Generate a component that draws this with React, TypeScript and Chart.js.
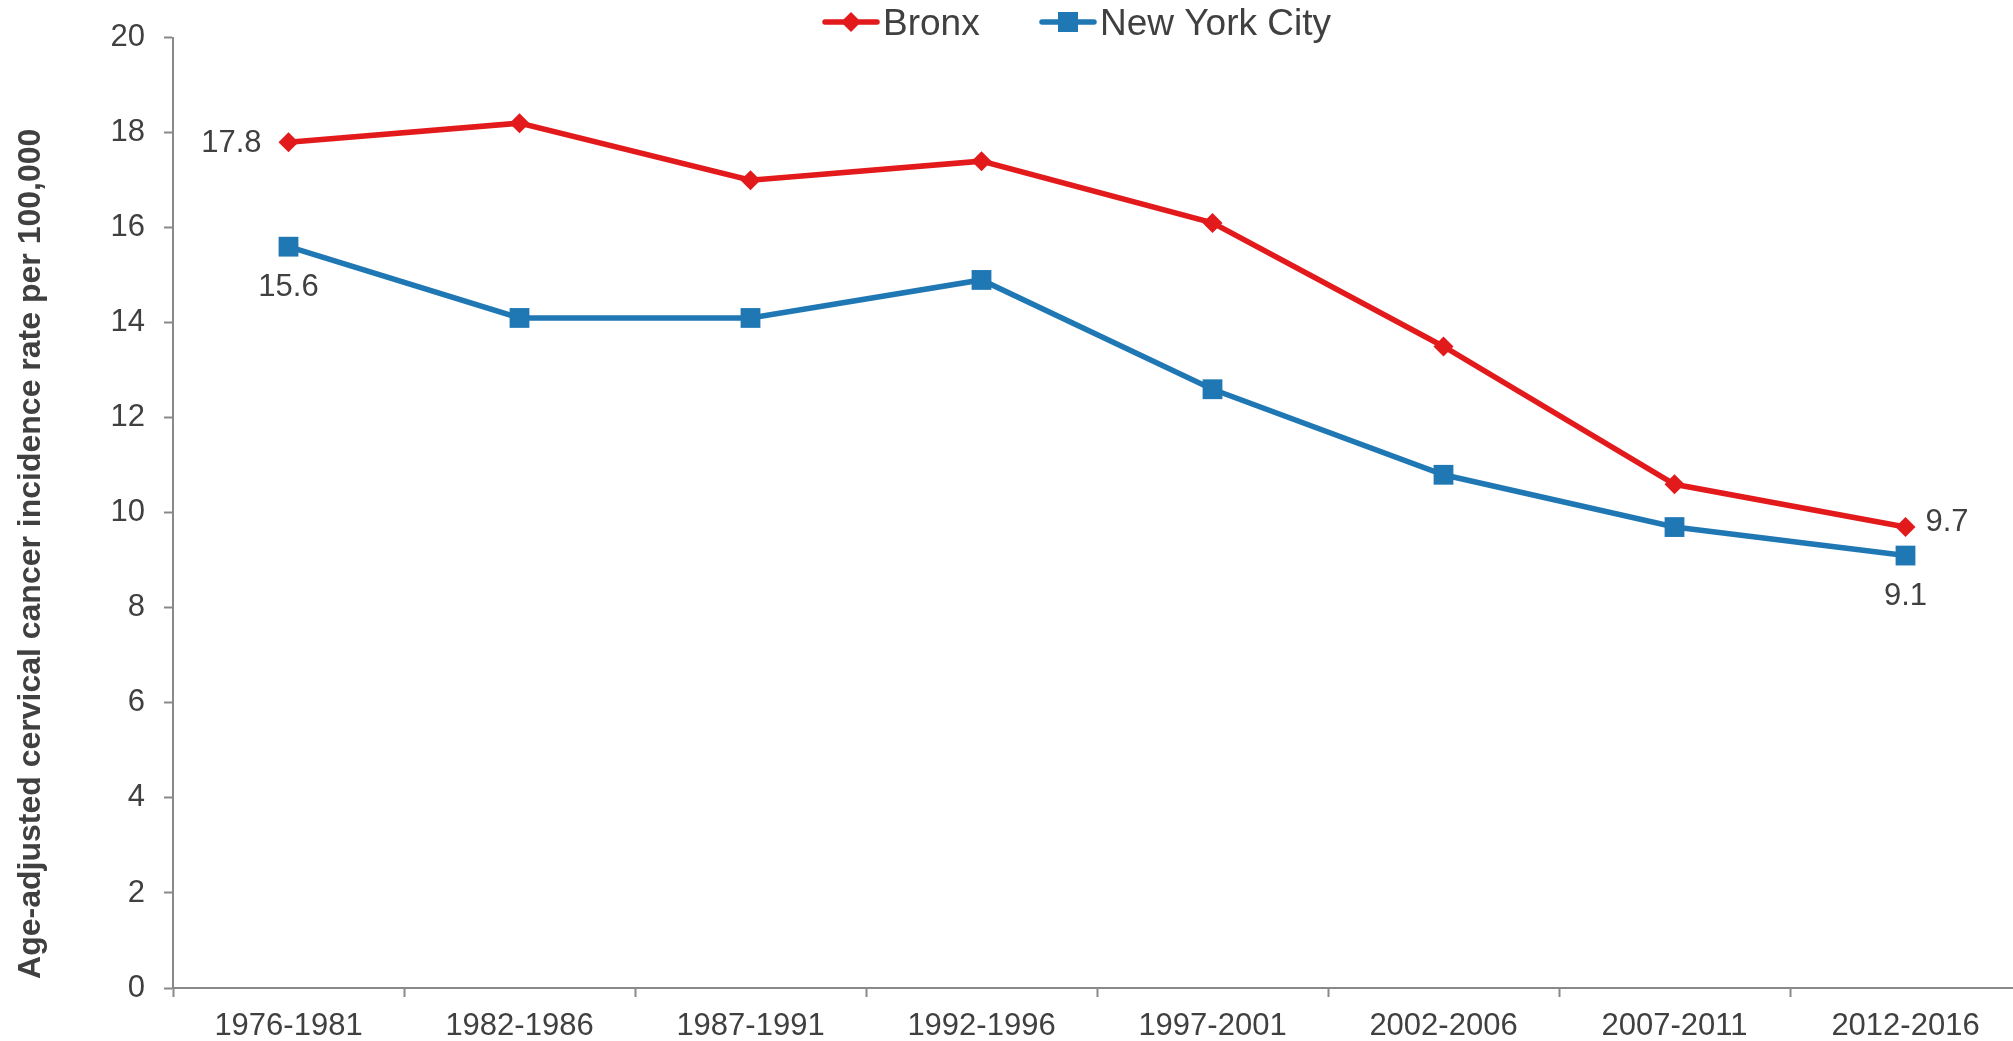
import React, { useEffect, useRef } from "react";
import { Chart, registerables } from "chart.js";

Chart.register(...registerables);

const categories = [
  "1976-1981",
  "1982-1986",
  "1987-1991",
  "1992-1996",
  "1997-2001",
  "2002-2006",
  "2007-2011",
  "2012-2016",
];
const seriesNames = ["Bronx", "New York City"];
const bronxValues = [17.8, 18.2, 17.0, 17.4, 16.1, 13.5, 10.6, 9.7];
const nycValues = [15.6, 14.1, 14.1, 14.9, 12.6, 10.8, 9.7, 9.1];
const yTitle = "Age-adjusted cervical cancer incidence rate per 100,000";
const yMin = 0;
const yMax = 20;
const yStep = 2;

const RED = "#E31A1C";
const BLUE = "#1F78B4";
const TEXT = "#404040";
const AXIS = "#898989";
const FONT = "'Liberation Sans', Arial, Helvetica, sans-serif";
const LINE_W = 5.5;

const CANVAS_W = 2021;
const CANVAS_H = 1041;

const overlayPlugin = {
  id: "overlay",
  afterDraw(chart: any) {
    const ctx = chart.ctx as CanvasRenderingContext2D;
    const area = chart.chartArea;
    ctx.save();

    // Y-axis title
    ctx.fillStyle = TEXT;
    ctx.font = `bold 32px ${FONT}`;
    ctx.textAlign = "center";
    ctx.textBaseline = "middle";
    ctx.translate(31, (area.top + area.bottom) / 2 + 41);
    ctx.rotate(-Math.PI / 2);
    ctx.fillText(yTitle, 0, 0);
    ctx.restore();

    // Legend
    ctx.save();
    const legendY = 22;
    const items = [
      { name: seriesNames[0], color: RED, style: "diamond", x: 823 },
      { name: seriesNames[1], color: BLUE, style: "square", x: 1040 },
    ];
    ctx.font = `37px ${FONT}`;
    ctx.textAlign = "left";
    ctx.textBaseline = "alphabetic";
    for (const it of items) {
      ctx.strokeStyle = it.color;
      ctx.lineWidth = LINE_W;
      ctx.lineCap = "round";
      ctx.beginPath();
      ctx.moveTo(it.x + 2, legendY);
      ctx.lineTo(it.x + 54, legendY);
      ctx.stroke();
      const cx = it.x + 28;
      ctx.fillStyle = it.color;
      ctx.beginPath();
      if (it.style === "diamond") {
        const r = 10;
        ctx.moveTo(cx, legendY - r);
        ctx.lineTo(cx + r, legendY);
        ctx.lineTo(cx, legendY + r);
        ctx.lineTo(cx - r, legendY);
        ctx.closePath();
      } else {
        const h = 10;
        ctx.rect(cx - h, legendY - h, 2 * h, 2 * h);
      }
      ctx.fill();
      ctx.fillStyle = TEXT;
      ctx.fillText(it.name, it.x + 60, 35);
    }
    ctx.restore();

    // Data labels (first and last points)
    ctx.save();
    ctx.font = `31px ${FONT}`;
    ctx.fillStyle = TEXT;
    ctx.textBaseline = "middle";
    const mB = chart.getDatasetMeta(0).data;
    const mN = chart.getDatasetMeta(1).data;
    const last = categories.length - 1;
    ctx.textAlign = "right";
    ctx.fillText(bronxValues[0].toFixed(1), mB[0].x - 27, mB[0].y + 1);
    ctx.textAlign = "left";
    ctx.fillText(bronxValues[last].toFixed(1), mB[last].x + 20, mB[last].y - 5);
    ctx.textAlign = "center";
    ctx.fillText(nycValues[0].toFixed(1), mN[0].x, mN[0].y + 41);
    ctx.fillText(nycValues[last].toFixed(1), mN[last].x, mN[last].y + 41);
    ctx.restore();
  },
};

export default function App() {
  const canvasRef = useRef<HTMLCanvasElement | null>(null);

  useEffect(() => {
    document.body.style.margin = "0";
    document.body.style.overflow = "hidden";
    const canvas = canvasRef.current;
    if (!canvas) return;
    const chart = new Chart(canvas, {
      type: "line",
      data: {
        labels: categories,
        datasets: [
          {
            label: seriesNames[0],
            data: bronxValues,
            borderColor: RED,
            backgroundColor: RED,
            borderWidth: LINE_W,
            pointStyle: "rectRot",
            pointRadius: 10,
            pointBorderWidth: 0,
            pointBackgroundColor: RED,
            tension: 0,
            fill: false,
            clip: false,
          },
          {
            label: seriesNames[1],
            data: nycValues,
            borderColor: BLUE,
            backgroundColor: BLUE,
            borderWidth: LINE_W,
            pointStyle: "rect",
            pointRadius: 14,
            pointBorderWidth: 0,
            pointBackgroundColor: BLUE,
            tension: 0,
            fill: false,
            clip: false,
          },
        ],
      },
      options: {
        responsive: false,
        animation: false,
        devicePixelRatio: 1,
        layout: { autoPadding: false, padding: { top: 31, left: 0, right: 0, bottom: 0 } },
        plugins: {
          legend: { display: false },
          tooltip: { enabled: false },
          title: { display: false },
        },
        scales: {
          x: {
            type: "category",
            offset: true,
            afterFit(scale: any) {
              scale.height = 53;
            },
            grid: {
              display: true,
              offset: true,
              drawOnChartArea: false,
              drawTicks: true,
              tickLength: 9,
              tickWidth: 2,
              tickColor: AXIS,
              color: AXIS,
            },
            border: { display: true, color: AXIS, width: 2 },
            ticks: {
              color: TEXT,
              font: { family: FONT, size: 31 },
              padding: 11,
              maxRotation: 0,
              autoSkip: false,
            },
          },
          y: {
            min: yMin,
            max: yMax,
            afterFit(scale: any) {
              scale.width = 173;
            },
            grid: {
              display: true,
              drawOnChartArea: false,
              drawTicks: true,
              tickLength: 9,
              tickWidth: 2,
              tickColor: AXIS,
              color: AXIS,
            },
            border: { display: true, color: AXIS, width: 2 },
            ticks: {
              stepSize: yStep,
              color: TEXT,
              font: { family: FONT, size: 31 },
              padding: 19,
            },
          },
        },
      },
      plugins: [overlayPlugin],
    });
    return () => chart.destroy();
  }, []);

  return (
    <div style={{ width: CANVAS_W, height: CANVAS_H, overflow: "hidden" }}>
      <canvas
        ref={canvasRef}
        width={CANVAS_W}
        height={CANVAS_H}
        style={{ width: CANVAS_W, height: CANVAS_H, display: "block" }}
      />
    </div>
  );
}
